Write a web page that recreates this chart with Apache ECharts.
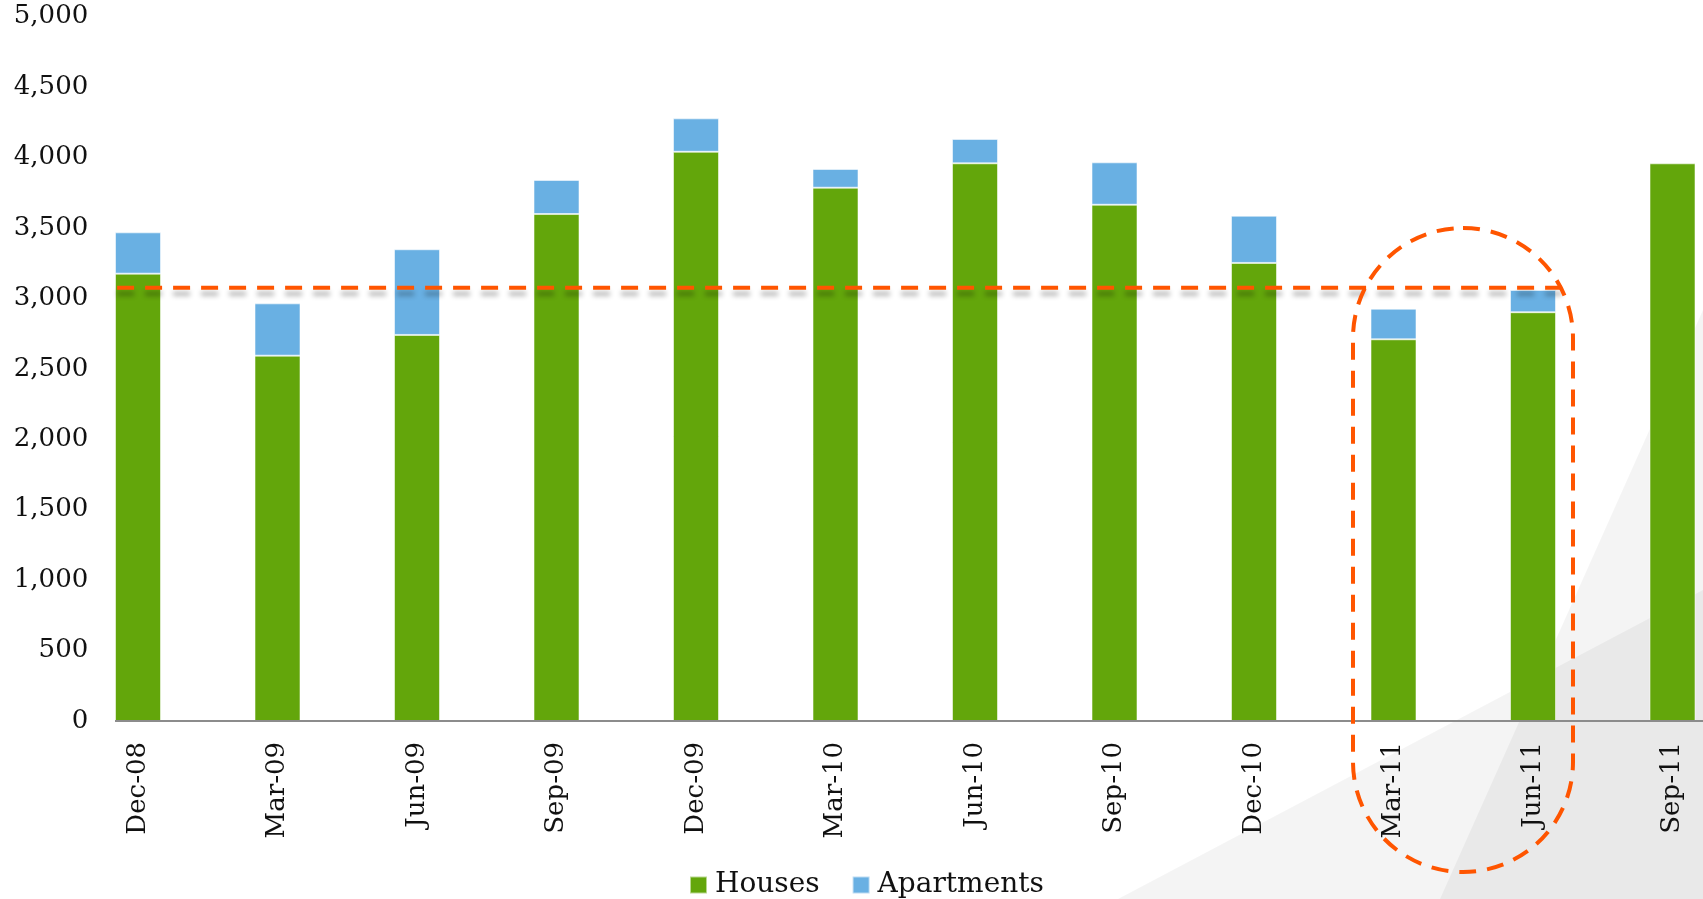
<!DOCTYPE html>
<html>
<head>
<meta charset="utf-8">
<script src="https://cdn.jsdelivr.net/npm/echarts@6/dist/echarts.min.js"></script>
<style>
  html, body { margin: 0; padding: 0; background: #fff; }
  #chart { width: 1703px; height: 899px; }
</style>
</head>
<body>
<div id="chart"></div>
<script>
// quarters on the x axis
const categories = ['Dec-08', 'Mar-09', 'Jun-09', 'Sep-09', 'Dec-09', 'Mar-10',
  'Jun-10', 'Sep-10', 'Dec-10', 'Mar-11', 'Jun-11', 'Sep-11']
const houses = [3175, 2593, 2740, 3598, 4040, 3785, 3958, 3664, 3251, 2709, 2901, 3958]
const apartments = [293, 371, 608, 242, 237, 133, 173, 301, 335, 217, 158, null]
const averageLevel = 3075
const yTicks = [0, 5000, 500]  // min, max, step

const fontFamily = '"DejaVu Serif", Georgia, serif'
const band = 139.5
const barWidth = 46
const barHalf = barWidth / band / 2

const chart = echarts.init(document.getElementById('chart'))

const option = {
  animation: false,
  backgroundColor: '#fff',
  graphic: [
    {
      type: 'polygon',
      z: -10,
      silent: true,
      shape: { points: [[1118, 899], [1703, 590], [1703, 899]] },
      style: { fill: 'rgba(0,0,0,0.045)' }
    },
    {
      type: 'polygon',
      z: -10,
      silent: true,
      shape: { points: [[1440, 899], [1703, 310], [1703, 899]] },
      style: { fill: 'rgba(0,0,0,0.045)' }
    },
    {
      type: 'rect',
      z: 100,
      silent: true,
      shape: { x: 1353, y: 228, width: 220, height: 644, r: 110 },
      style: { fill: 'none', stroke: '#FF5500', lineWidth: 4, lineDash: [17, 11] }
    }
  ],
  legend: {
    data: ['Houses', 'Apartments'],
    left: 684,
    top: 866,
    icon: 'rect',
    itemWidth: 17,
    itemHeight: 17,
    itemGap: 32,
    textStyle: {
      fontFamily: fontFamily,
      fontSize: 28,
      color: '#111',
      padding: [0, 0, 0, 3]
    }
  },
  grid: {
    left: 68.25,
    width: band * categories.length,
    top: 16.5,
    bottom: 178,
    outerBoundsMode: 'none'
  },
  xAxis: [
    {
      type: 'category',
      data: categories,
      axisLine: { show: false },
      axisTick: { show: false },
      axisLabel: {
        rotate: 90,
        margin: 21,
        fontFamily: fontFamily,
        fontSize: 26,
        color: '#111'
      }
    },
    {
      type: 'value',
      min: -0.5,
      max: 11.5,
      show: false
    }
  ],
  yAxis: {
    type: 'value',
    min: yTicks[0],
    max: yTicks[1],
    interval: yTicks[2],
    axisLine: { show: false },
    axisTick: { show: false },
    splitLine: { show: false },
    axisLabel: {
      margin: -20,
      fontFamily: fontFamily,
      fontSize: 26,
      color: '#111',
      formatter: v => v.toLocaleString('en-US')
    }
  },
  series: [
    {
      name: 'Houses',
      type: 'bar',
      stack: 'total',
      barWidth: barWidth,
      data: houses,
      itemStyle: { color: '#63A60B', borderColor: 'rgba(255,255,255,0.55)', borderWidth: 1 }
    },
    {
      name: 'Apartments',
      type: 'bar',
      stack: 'total',
      barWidth: barWidth,
      data: apartments,
      itemStyle: { color: '#69B0E3', borderColor: 'rgba(255,255,255,0.55)', borderWidth: 1 }
    },
    {
      // baseline of the plot, starts at the first bar
      name: 'baseline',
      type: 'line',
      xAxisIndex: 1,
      symbol: 'none',
      silent: true,
      data: [[-barHalf, 0], [11.5, 0]],
      lineStyle: { color: '#8c8c8c', width: 2 },
      z: 5
    },
    {
      name: 'average',
      type: 'line',
      xAxisIndex: 1,
      symbol: 'none',
      silent: true,
      data: [[-barHalf + 0.015, averageLevel], [10.207, averageLevel]],
      lineStyle: {
        color: '#FF5500',
        width: 4,
        type: [17, 11],
        shadowColor: 'rgba(0,0,0,0.3)',
        shadowBlur: 5,
        shadowOffsetY: 6
      },
      z: 10
    }
  ]
}

chart.setOption(option)
</script>
</body>
</html>
